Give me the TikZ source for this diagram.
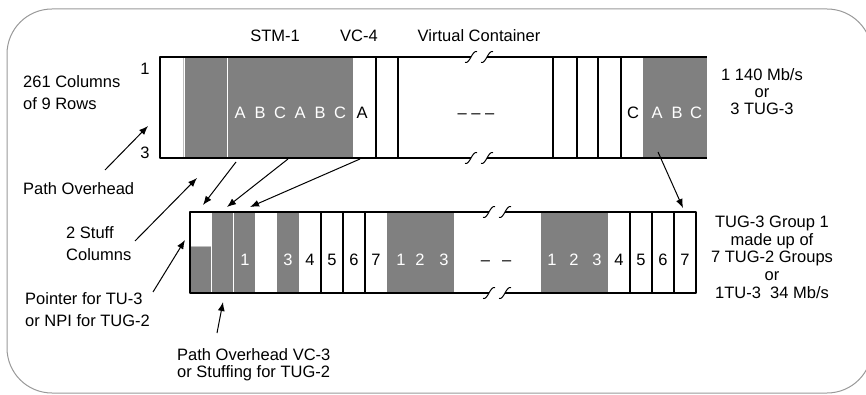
\documentclass[tikz,border=0pt]{standalone}
\usepackage{fontspec}
\setmainfont{Liberation Sans}
\usetikzlibrary{arrows.meta}

\begin{document}
\begin{tikzpicture}[x=1pt,y=-1pt,line join=round]
    \tikzstyle{lbl} = [font=\fontsize{16.5}{22}\selectfont,inner sep=0pt]
    \tikzstyle{tight} = [font=\fontsize{16.5}{17}\selectfont,inner sep=0pt]
    \tikzstyle{inlbl} = [lbl,text=white,anchor=base]
    \tikzstyle{cell} = [lbl,anchor=base]
    \tikzstyle{panel} = [fill=black!50]
    \tikzstyle{rule} = [line width=1.2pt]
    \tikzstyle{pointer} = [line width=1pt,-{Latex[length=9pt,width=7pt]}]
    \useasboundingbox (0,0) rectangle (866,395);
    % outer frame
    \draw[black!40,line width=1pt,rounded corners=45pt] (7,9) rectangle (872,393);
    % STM-1 / VC-4 row
    \fill[panel] (185,57) rectangle (353,158);
    \fill[panel] (643,57) rectangle (707,158);
    \draw[white,line width=1pt] (227,57) -- (227,158);
    \draw[black!25,line width=.6pt] (183,57) -- (183,158);
    \draw[rule] (471,57) -- (160,57) -- (160,158) -- (471,158);
    \draw[rule] (487,57) -- (707,57) (487,158) -- (707,158);
    \foreach \x in {376,398,553,577,598,621}
        \draw[rule] (\x,57) -- (\x,158);
    % TUG-3 row
    \fill[panel] (190,246) rectangle (211,293);
    \fill[panel] (212,212) rectangle (255,293);
    \fill[panel] (277,212) rectangle (299,293);
    \fill[panel] (387,212) rectangle (454,293);
    \fill[panel] (541,212) rectangle (608,293);
    \draw[white,line width=1pt] (233,212) -- (233,293);
    \draw[black!25,line width=.6pt] (190,246) -- (211,246);
    \draw[rule] (489,212) -- (190,212) -- (190,293) -- (489,293);
    \draw[rule] (505,212) -- (696,212) -- (696,293) -- (505,293);
    \foreach \x in {321,343,365,630,652,674}
        \draw[rule] (\x,212) -- (\x,293);
    % break marks
    \foreach \x/\y in {471/57,487/57,471/158,487/158,489/212,505/212,489/293,505/293}
        \draw[line width=1pt] (\x-6,\y+5.5) .. controls (\x-1,\y+7) and (\x+1,\y-7) .. (\x+6,\y-5.5);
    % headings
    \node[cell] (stm) at (275,42) {STM-1};
    \node[cell] (vc4) at (359,42) {VC-4};
    \node[cell] (vcont) at (479,42) {Virtual Container};
    \node[cell] (row1) at (145,75) {1};
    \node[cell] (row3) at (145,159) {3};
    % cell letters
    \foreach \x/\t in {240/A,260/B,280/C,300/A,320/B,340/C,657/A,677/B,696/C}
        \node[inlbl] at (\x,119) {\t};
    \node[cell] (vca) at (362,119) {A};
    \node[cell] (vcc) at (633,119) {C};
    \node[cell] (vcdots) at (476,119) {-- -- --};
    \foreach \x/\t in {245/1,288/3,401/1,420/2,444/3,552/1,574/2,597/3}
        \node[inlbl] at (\x,265) {\t};
    \foreach \x/\t in {310/4,332/5,354/6,376/7,619/4,641/5,663/6,685/7}
        \node[cell] at (\x,265) {\t};
    \node[cell] (tugdots) at (496,265) {--\hspace{12pt}--};
    % side texts
    \node[lbl,anchor=north west,align=left] (cols) at (23,75) {261 Columns\\of 9 Rows};
    \node[lbl,anchor=north west] (poh) at (23,182) {Path Overhead};
    \node[lbl,anchor=north west,align=left] (stuff) at (66,226) {2 Stuff\\Columns};
    \node[lbl,anchor=north west,align=left] (ptr) at (25,292) {Pointer for TU-3\\or NPI for TUG-2};
    \node[tight,anchor=north west,align=left] (pohvc) at (177,348) {Path Overhead VC-3\\or Stuffing for TUG-2};
    \node[tight,anchor=north,align=center] (rate) at (762,68) {1 140 Mb/s\\or\\3 TUG-3};
    \node[tight,anchor=north,align=center,font=\fontsize{16.5}{17.6}\selectfont] (grp) at (772,216)
        {TUG-3 Group 1\\made up of\\7 TUG-2 Groups\\or\\1TU-3\ \ 34 Mb/s};
    % arrow ends
    \coordinate (poh-a) at (105,170);   \coordinate (poh-b) at (148,126);
    \coordinate (stuff-a) at (135,241); \coordinate (stuff-b) at (197,178);
    \coordinate (sa) at (236,162);      \coordinate (sb) at (203,205);
    \coordinate (ta) at (288,159);      \coordinate (tb) at (227,207);
    \coordinate (ua) at (360,159);      \coordinate (ub) at (250,207);
    \coordinate (va) at (658,152);      \coordinate (vb) at (683,208);
    \coordinate (ptr-a) at (153,292);   \coordinate (ptr-b) at (185,240);
    \coordinate (pohvc-a) at (217,333); \coordinate (pohvc-b) at (223,302);
    \draw[pointer] (poh-a) -- (poh-b);
    \draw[pointer] (stuff-a) -- (stuff-b);
    \draw[pointer] (sa) -- (sb);
    \draw[pointer] (ta) -- (tb);
    \draw[pointer] (ua) -- (ub);
    \draw[pointer] (va) -- (vb);
    \draw[pointer] (ptr-a) -- (ptr-b);
    \draw[pointer] (pohvc-a) -- (pohvc-b);
\end{tikzpicture}
\end{document}
